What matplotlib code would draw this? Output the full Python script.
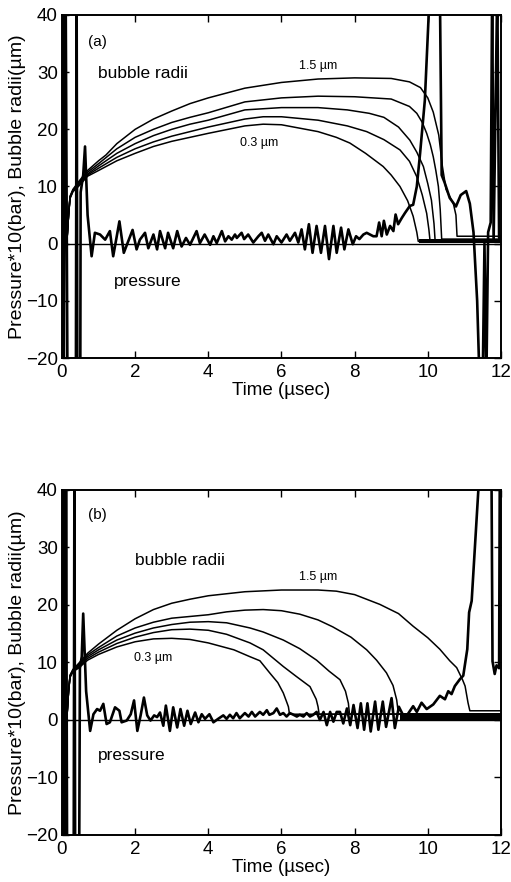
import matplotlib
matplotlib.use("Agg")
import matplotlib.pyplot as plt

plt.rcParams['font.family'] = ['Liberation Sans', 'DejaVu Sans']

# ---- panel (a): bubble radii (um) vs time (usec) ----
a_r15_t = [0.13, 0.18, 0.22, 0.3, 0.45, 0.7, 1.0, 1.2, 1.5, 2.0, 2.5, 3.0, 3.5, 4.0, 5.0, 6.0, 7.0, 8.0,
           9.0, 9.5, 9.8, 10.0, 10.15, 10.3, 10.4, 10.5, 10.7, 10.77, 10.8, 12.0]
a_r15 = [0.0, 5.0, 8.3, 9.5, 10.8, 12.8, 14.5, 15.5, 17.5, 20.0, 21.8, 23.2, 24.5, 25.5, 27.2, 28.2, 28.8, 29.0,
         28.9, 28.3, 27.3, 25.5, 23.0, 19.0, 13.5, 9.5, 7.0, 5.0, 1.3, 1.3]
a_r2_t = [0.13, 0.18, 0.22, 0.3, 0.45, 0.7, 1.0, 1.5, 2.0, 2.5, 3.0, 3.5, 4.0, 5.0, 6.0, 7.0, 8.0, 9.0,
          9.5, 9.7, 9.85, 9.97, 10.07, 10.15, 10.22, 10.29, 10.34, 10.38, 12.0]
a_r2 = [0.0, 5.0, 8.2, 9.4, 10.6, 12.5, 14.0, 16.6, 18.6, 20.0, 21.2, 22.1, 22.9, 24.8, 25.5, 25.8, 25.7, 25.3,
        24.0, 22.8, 21.2, 19.3, 17.3, 15.2, 12.8, 10.0, 6.0, 0.8, 0.8]
a_r3_t = [0.13, 0.18, 0.22, 0.3, 0.45, 0.7, 1.0, 1.5, 2.0, 2.5, 3.0, 3.5, 4.0, 5.0, 6.0, 7.0, 7.8, 8.4,
          8.8, 9.2, 9.51, 9.7, 9.88, 10.0, 10.1, 10.17, 10.2, 12.0]
a_r3 = [0.0, 5.0, 8.1, 9.3, 10.4, 12.2, 13.6, 15.8, 17.5, 18.9, 20.0, 20.9, 21.6, 23.4, 23.8, 23.8, 23.4, 22.8,
        22.1, 20.4, 18.1, 16.0, 13.5, 10.5, 7.6, 3.5, 0.6, 0.6]
a_r4_t = [0.13, 0.18, 0.22, 0.3, 0.45, 0.7, 1.0, 1.5, 2.0, 2.5, 3.0, 3.5, 4.0, 5.0, 5.5, 6.0, 7.0, 7.8,
          8.33, 8.8, 9.24, 9.5, 9.7, 9.85, 9.97, 10.03, 10.06, 12.0]
a_r4 = [0.0, 5.0, 8.0, 9.2, 10.2, 12.0, 13.2, 15.1, 16.6, 17.8, 18.8, 19.6, 20.4, 21.8, 22.2, 22.2, 21.6, 20.6,
        19.6, 18.2, 16.4, 14.4, 11.7, 8.5, 5.3, 2.5, 0.6, 0.6]
a_r03_t = [0.13, 0.18, 0.22, 0.3, 0.45, 0.7, 1.0, 1.5, 2.0, 2.5, 3.0, 3.5, 4.0, 5.0, 5.5, 6.0, 6.5, 7.0,
           7.5, 7.87, 8.3, 8.78, 9.0, 9.24, 9.45, 9.6, 9.7, 9.74, 12.0]
a_r03 = [0.0, 5.0, 7.9, 9.1, 10.0, 11.8, 12.8, 14.5, 15.8, 17.0, 17.9, 18.6, 19.3, 20.6, 20.9, 20.8, 20.2, 19.6,
         18.6, 17.6, 15.8, 13.5, 12.0, 10.0, 7.5, 4.8, 2.0, 0.4, 0.4]

# pressure*10 (bar), panel (a): (time, value)
a_pressure = [
    (0, 0), (0.03, 45), (0.05, -25), (0.08, 45), (0.1, 45), (0.15, -25), (0.17, -25), (0.38, -25),
    (0.4, 45), (0.42, -25), (0.5, -25), (0.51, 9), (0.58, 12), (0.63, 17), (0.7, 5), (0.81, -2.2),
    (0.9, 1.9), (1.04, 1.6), (1.18, 0.7), (1.31, 2.2), (1.4, -2.2), (1.57, 3.9), (1.69, -1.6), (1.81, 0.4),
    (1.93, 2.4), (2.04, -1.0), (2.13, 0.7), (2.27, 1.9), (2.36, -0.8), (2.5, 1.6), (2.6, -1.0), (2.68, 2.2),
    (2.82, -0.8), (2.9, 1.9), (3.04, -0.8), (3.15, 2.2), (3.27, -0.5), (3.39, 1.0), (3.5, -0.2), (3.68, 2.2),
    (3.77, 0.1), (3.9, 1.6), (4.05, -0.2), (4.14, 1.3), (4.23, 0.1), (4.37, 2.2), (4.46, 0.4), (4.55, 1.3),
    (4.64, 0.7), (4.73, 1.6), (4.78, 1.0), (4.91, 1.9), (4.98, 0.8), (5.09, 1.6), (5.23, 0.2), (5.37, 1.3),
    (5.46, 1.9), (5.55, 0.5), (5.64, 1.6), (5.78, -0.1), (5.87, 1.3), (6.0, 0.2), (6.14, 1.6), (6.23, 0.5),
    (6.37, 1.9), (6.46, 0.2), (6.55, 2.5), (6.64, -1.0), (6.75, 3.4), (6.85, -1.6), (6.96, 3.1), (7.08, -1.6),
    (7.19, 3.1), (7.3, -2.7), (7.42, 3.1), (7.51, -1.6), (7.63, 2.8), (7.72, -1.0), (7.83, 2.5), (7.95, -0.1),
    (8.04, 1.3), (8.13, 0.8), (8.24, 1.6), (8.33, 1.9), (8.51, 1.3), (8.6, 1.3), (8.67, 3.7), (8.74, 1.3),
    (8.8, 4.0), (8.88, 1.6), (8.97, 3.1), (9.06, 2.2), (9.12, 5.1), (9.19, 3.4), (9.29, 4.5), (9.38, 5.4),
    (9.51, 6.6), (9.6, 6.8), (9.7, 10.0), (9.79, 15.8), (9.92, 25.1), (10.06, 45), (10.33, 45), (10.38, 12),
    (10.46, 10.7), (10.6, 8.0), (10.77, 6.5), (10.9, 8.5), (11.05, 9.2), (11.15, 7), (11.25, 2), (11.35, -10),
    (11.42, -25), (11.5, -25), (11.55, 0), (11.6, -25), (11.65, 2), (11.72, 3.7), (11.76, 45), (11.8, 0.5),
    (11.9, 45), (11.95, 1.0), (12.0, 1.0),
]
# collapsed-bubble rebound band, panel (a)
a_band_t = [9.75, 12.0]
a_band_lo = [0.1, 0.1]
a_band_hi = [0.9, 0.9]

# ---- panel (b) ----
b_r15_t = [0.13, 0.18, 0.22, 0.3, 0.45, 0.7, 1.0, 1.5, 2.0, 2.5, 3.0, 3.5, 4.0, 5.0, 6.0, 7.0, 7.5, 8.0,
           8.69, 9.2, 9.6, 10.0, 10.33, 10.6, 10.79, 10.95, 11.02, 11.1, 11.15, 12.0]
b_r15 = [0.0, 5.0, 7.8, 8.8, 9.8, 11.6, 13.2, 15.6, 17.6, 19.2, 20.3, 21.0, 21.6, 22.3, 22.6, 22.6, 22.4, 21.8,
         20.1, 18.5, 16.3, 14.3, 12.3, 10.3, 9.1, 7.0, 5.9, 3.0, 1.6, 1.6]
b_r2_t = [0.13, 0.18, 0.22, 0.3, 0.45, 0.7, 1.0, 1.5, 2.0, 2.5, 3.0, 4.0, 4.5, 5.0, 5.5, 6.0, 6.5, 7.0,
          7.4, 7.9, 8.33, 8.6, 8.87, 9.05, 9.15, 9.2, 12.0]
b_r2 = [0.0, 5.0, 7.7, 8.7, 9.6, 11.3, 12.6, 14.6, 16.0, 17.0, 17.7, 18.3, 18.8, 19.1, 19.2, 19.0, 18.4, 17.4,
        16.2, 14.4, 12.2, 10.4, 8.2, 6.0, 3.5, 1.0, 1.0]
b_r3_t = [0.13, 0.18, 0.22, 0.3, 0.45, 0.7, 1.0, 1.5, 2.0, 2.5, 3.0, 3.5, 4.0, 4.5, 5.14, 5.5, 6.05, 6.5,
          6.96, 7.3, 7.6, 7.75, 7.83, 7.86, 12.0]
b_r3 = [0.0, 5.0, 7.6, 8.6, 9.4, 11.0, 12.2, 13.9, 15.1, 16.0, 16.6, 17.0, 17.1, 16.9, 16.0, 15.3, 13.9, 12.4,
        10.4, 8.5, 7.0, 5.0, 2.9, 1.0, 1.0]
b_r4_t = [0.13, 0.18, 0.22, 0.3, 0.45, 0.7, 1.0, 1.5, 2.0, 2.5, 3.0, 3.5, 4.0, 4.5, 5.14, 5.5, 6.05, 6.4,
          6.78, 6.95, 7.0, 7.03, 12.0]
b_r4 = [0.0, 5.0, 7.5, 8.5, 9.2, 10.7, 11.8, 13.3, 14.4, 15.2, 15.7, 15.8, 15.6, 14.9, 13.4, 12.2, 9.3, 7.6,
        5.8, 3.6, 2.3, 1.0, 1.0]
b_r03_t = [0.13, 0.18, 0.22, 0.3, 0.45, 0.7, 1.0, 1.5, 2.0, 2.5, 3.0, 3.5, 4.0, 4.7, 5.14, 5.41, 5.69, 5.9,
           6.05, 6.15, 6.19, 6.22, 12.0]
b_r03 = [0.0, 5.0, 7.4, 8.4, 9.0, 10.4, 11.4, 12.7, 13.6, 14.1, 14.2, 14.0, 13.4, 12.2, 11.0, 10.3, 8.1, 6.5,
         4.7, 3.0, 2.3, 1.0, 1.0]

b_pressure = [
    (0, 0), (0.03, 45), (0.05, -25), (0.07, 45), (0.09, -25), (0.11, 45), (0.14, -25), (0.32, -25),
    (0.34, 45), (0.36, -25), (0.47, -25), (0.49, 9), (0.54, 11), (0.58, 18.5), (0.66, 5), (0.77, -1.9),
    (0.86, 1.0), (0.96, 1.9), (1.04, 1.6), (1.13, 2.8), (1.22, -0.7), (1.31, -0.4), (1.45, 2.2), (1.57, 1.6),
    (1.63, -0.4), (1.77, -0.1), (1.88, 1.0), (1.97, 3.4), (2.06, -1.9), (2.15, 0.8), (2.24, 3.9), (2.33, 0.8),
    (2.42, -0.1), (2.52, 0.8), (2.6, 0.5), (2.68, 1.3), (2.77, -1.0), (2.84, 2.5), (2.95, -1.9), (3.04, 2.2),
    (3.15, -1.3), (3.24, 1.9), (3.34, -1.0), (3.43, 1.6), (3.52, -0.7), (3.64, 1.3), (3.73, -0.4), (3.82, 1.0),
    (3.91, 0.2), (4.03, 1.0), (4.14, -0.4), (4.27, 0.2), (4.41, 0.8), (4.5, 0.2), (4.59, 0.9), (4.68, 0.3),
    (4.77, 1.2), (4.86, 0.3), (5.0, 1.2), (5.1, 0.6), (5.19, 1.4), (5.28, 0.6), (5.41, 1.4), (5.5, 0.9),
    (5.6, 1.7), (5.67, 0.9), (5.78, 1.2), (5.87, 2.0), (5.96, 0.9), (6.05, 1.2), (6.14, 0.6), (6.23, 1.2),
    (6.33, 0.9), (6.42, 0.6), (6.5, 0.9), (6.6, 0.6), (6.69, 1.2), (6.78, 0.6), (6.87, 0.9), (6.96, 1.4),
    (7.05, 0), (7.15, 1.4), (7.24, -0.9), (7.33, 1.4), (7.42, -0.3), (7.51, 1.4), (7.6, 1.4), (7.69, -0.6),
    (7.79, 2.0), (7.88, -0.9), (7.97, 2.6), (8.08, -1.4), (8.17, 2.9), (8.26, -1.7), (8.35, 2.9), (8.44, -2.0),
    (8.56, 3.2), (8.65, -1.7), (8.77, 3.2), (8.86, -1.2), (9.01, 3.8), (9.1, -1.4), (9.21, 2.3), (9.32, 0.9),
    (9.42, 0.7), (9.6, 2.4), (9.7, 1.4), (9.83, 3.0), (9.97, 1.9), (10.15, 2.7), (10.33, 4.2), (10.47, 3.6),
    (10.56, 5.0), (10.65, 4.5), (10.74, 5.9), (10.88, 7.1), (10.97, 7.7), (11.08, 12.3), (11.13, 18.7),
    (11.2, 20.7), (11.43, 45), (11.74, 45), (11.77, 10.2), (11.83, 8.0), (11.88, 9.5), (11.95, 9.0),
    (11.97, 45), (12.0, 45),
]
b_band_t = [9.25, 12.0]
b_band_lo = [0.0, 0.0]
b_band_hi = [1.2, 1.2]

x_ticks = [0, 2, 4, 6, 8, 10, 12]
y_ticks = [-20, -10, 0, 10, 20, 30, 40]


def draw_panel(ax, radii, pressure, band, labels):
    for t, r in radii:
        ax.plot(t, r, color='black', linewidth=1.1)
    pt = [p[0] for p in pressure]
    pv = [p[1] for p in pressure]
    ax.plot(pt, pv, color='black', linewidth=1.9)
    ax.fill_between(band[0], band[1], band[2], color='black', linewidth=0)
    ax.axhline(0, color='black', linewidth=1.0)

    ax.set_xlim(0, 12)
    ax.set_ylim(-20, 40)
    ax.set_xticks(x_ticks)
    ax.set_yticks(y_ticks)
    ax.tick_params(direction='in', length=5, width=1, top=True, right=True, labelsize=13.5)
    ax.tick_params(axis='x', pad=4.5)
    ax.tick_params(axis='y', pad=3)
    for s in ax.spines.values():
        s.set_linewidth(1.4)
    ax.set_xlabel("Time (\u00b5sec)", fontsize=13.5, labelpad=0.5)
    ax.set_ylabel("Pressure*10(bar), Bubble radii(\u00b5m)", fontsize=14, labelpad=0)

    for (x, y, txt, fs) in labels:
        ax.text(x, y, txt, fontsize=fs, ha='center', va='center')


fig = plt.figure(figsize=(5.11, 8.82), dpi=100)
ax_a = fig.add_axes([0.1213, 0.5941, 0.859, 0.3889])
ax_b = fig.add_axes([0.1213, 0.0533, 0.859, 0.3912])

draw_panel(
    ax_a,
    [(a_r15_t, a_r15), (a_r2_t, a_r2), (a_r3_t, a_r3), (a_r4_t, a_r4), (a_r03_t, a_r03)],
    a_pressure,
    (a_band_t, a_band_lo, a_band_hi),
    [(0.98, 35.3, "(a)", 11), (2.2, 29.8, "bubble radii", 12.5), (7.0, 31.0, "1.5 \u00b5m", 9),
     (5.4, 17.6, "0.3 \u00b5m", 9), (2.35, -6.6, "pressure", 12.5)],
)
draw_panel(
    ax_b,
    [(b_r15_t, b_r15), (b_r2_t, b_r2), (b_r3_t, b_r3), (b_r4_t, b_r4), (b_r03_t, b_r03)],
    b_pressure,
    (b_band_t, b_band_lo, b_band_hi),
    [(0.96, 35.6, "(b)", 11), (3.22, 27.8, "bubble radii", 12.5), (7.0, 24.9, "1.5 \u00b5m", 9),
     (2.5, 10.8, "0.3 \u00b5m", 9), (1.92, -6.2, "pressure", 12.5)],
)

fig.savefig("out.png", dpi=100)
